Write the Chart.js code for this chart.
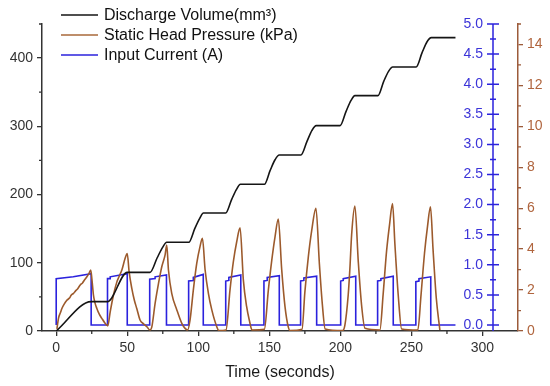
<!DOCTYPE html>
<html>
<head>
<meta charset="utf-8">
<script src="https://cdn.jsdelivr.net/npm/chart.js@4/dist/chart.umd.min.js"></script>
<style>
  body { margin: 0; background: #fff; }
  canvas { display: block; }
</style>
</head>
<body>
<canvas id="myChart" width="550" height="386"></canvas>
<script>
// ticks
const xTicks = [0, 50, 100, 150, 200, 250, 300]
const xMinor = [25, 75, 125, 175, 225, 275]
const volumeTicks = [0, 100, 200, 300, 400]
const volumeMinor = [50, 150, 250, 350, 450]
const currentTicks = [0, 0.5, 1, 1.5, 2, 2.5, 3, 3.5, 4, 4.5, 5]
const currentMinor = [0.25, 0.75, 1.25, 1.75, 2.25, 2.75, 3.25, 3.75, 4.25, 4.75]
const pressureTicks = [0, 2, 4, 6, 8, 10, 12, 14]
const pressureMinor = [1, 3, 5, 7, 9, 11, 13, 15]

// Discharge Volume (mm3)
const volumeT = [0, 24.6, 36, 50, 66, 71, 75, 77.8, 93.3, 97.5, 101, 103.6, 119.3, 123.5, 127, 129.6,
  146.5, 150.5, 154, 157, 172.2, 176.5, 180, 183, 199.8, 204, 207.5, 210.2, 226.4, 230.5, 234, 236.8,
  253.3, 257.5, 261, 264, 281]
const volumeV = [0, 43, 43, 86, 86, 107, 123, 130, 130, 150, 165, 173, 173, 193, 208, 215,
  215, 235, 251, 258, 258, 278, 294, 301, 301, 322, 338, 345, 345, 366, 381, 387,
  387, 408, 424, 430, 430]

// Static Head Pressure (kPa)
const pressureT = [0.5, 1.6, 3, 4, 5.5, 7.5, 9.5, 10.5, 12.2, 13.5, 15, 16.9, 18.5, 20, 21.6, 23, 24.3,
  25.1, 26.2, 27.2, 28.6, 30.3, 32.1, 34, 35.6,
  36.3, 38, 40.3, 42.7, 44.5, 46.2, 48.5, 50, 51.3, 53.2, 55, 56.7, 59, 61.5, 63.8, 66,
  67.3, 69.6, 72, 74.3, 76.6, 77.8, 79, 81.3, 84.9, 88.4, 90.7, 92.5,
  94.2, 96.5, 98.9, 101.2, 102.9, 104.8, 107.1, 109.5, 113, 114.5, 119.5,
  122.3, 124.7, 127, 129.4, 131.7, 134, 136, 137.8, 146.5,
  149.3, 151.7, 154, 156.3, 158.7, 161, 163.3, 164.5, 173,
  175, 177.4, 179.8, 182.8, 185.2, 187.3, 189.3, 201.5,
  203.2, 205.5, 206.7, 207.9, 210.2, 212.6, 214.9, 217.3, 227.8,
  230.1, 232.5, 234.6, 236.7, 238.4, 240.7, 243.1, 254.5,
  256.8, 259.2, 261.3, 263.4, 265.2, 267.5, 270]
const pressureK = [0.1, 0.62, 0.9, 1.1, 1.3, 1.5, 1.62, 1.75, 1.84, 1.95, 2.05, 2.25, 2.35, 2.5, 2.65, 2.8, 2.98,
  2.55, 1.76, 1.4, 1.1, 0.82, 0.62, 0.42, 0.29,
  0.25, 0.94, 1.76, 2.4, 2.7, 2.98, 3.55, 3.79, 2.9, 2.08, 1.5, 1.1, 0.54, 0.35, 0.21, 0.05,
  0.2, 1.35, 2.33, 3.14, 3.71, 4.2, 2.98, 1.84, 1.03, 0.37, 0.13, 0.05,
  0.54, 2.0, 3.3, 4.12, 4.53, 2.98, 1.84, 1.03, 0.21, 0.02, 0.05,
  2.0, 3.4, 4.35, 5.04, 2.5, 1.2, 0.5, 0.05, 0.08,
  2.0, 3.45, 4.6, 5.47, 3.0, 1.2, 0.2, 0.02, 0.08,
  1.9, 3.6, 4.9, 6.0, 3.3, 1.3, 0.1, 0.02,
  0.3, 1.76, 3.06, 4.69, 6.1, 3.38, 1.27, 0.13, 0.05,
  1.8, 3.9, 5.2, 6.23, 4.2, 1.76, 0.1, 0.05,
  1.8, 3.8, 5.1, 6.07, 4.0, 1.6, 0.05]

// Input Current (A)
const currentT = [0, 0, 12, 24.6, 24.6, 36.1, 36.1, 38, 38, 50, 50,
  65.8, 65.8, 69.6, 69.6, 77.6, 77.6, 93.2, 93.2, 96.5, 96.5, 103.5, 103.5,
  119.3, 119.3, 121.5, 121.5, 129.9, 129.9, 146.2, 146.2, 148.5, 148.5, 157, 157,
  172, 172, 174.3, 174.3, 183.3, 183.3, 200.2, 200.2, 202, 202, 210.8, 210.8,
  226.2, 226.2, 228.5, 228.5, 237.2, 237.2, 253.1, 253.1, 255.3, 255.3, 263.6, 263.6, 281]
const currentA = [0, 0.77, 0.8, 0.85, 0, 0, 0.77, 0.77, 0.8, 0.85, 0,
  0, 0.76, 0.77, 0.8, 0.83, 0, 0, 0.73, 0.74, 0.79, 0.84, 0,
  0, 0.73, 0.74, 0.79, 0.83, 0, 0, 0.73, 0.74, 0.79, 0.82, 0,
  0, 0.73, 0.74, 0.78, 0.81, 0, 0, 0.73, 0.74, 0.77, 0.81, 0,
  0, 0.73, 0.74, 0.77, 0.81, 0, 0, 0.72, 0.73, 0.77, 0.8, 0, 0]

const ink = '#333'
const blue = '#2b22dd'
const brown = '#9c5a2c'
const font = "'Liberation Sans', Arial, sans-serif"
Chart.defaults.font.family = font

function pts(xs, ys){
    return xs.map((x, i) => ({x: x, y: ys[i]}))
}

// minor ticks, the inner current axis and the legend
const extras = {
    id: 'extras',
    afterDraw(chart){
        const ctx = chart.ctx
        const a = chart.chartArea
        const {x, yV, yP, yI} = chart.scales
        ctx.save()
        ctx.lineWidth = 1.3
        ctx.strokeStyle = ink
        ctx.beginPath()
        xMinor.forEach(v => {
            const px = x.getPixelForValue(v)
            ctx.moveTo(px, a.bottom); ctx.lineTo(px, a.bottom + 3)
        })
        volumeMinor.forEach(v => {
            const py = yV.getPixelForValue(v)
            ctx.moveTo(a.left, py); ctx.lineTo(a.left - 3, py)
        })
        ctx.stroke()
        ctx.strokeStyle = '#9c5b3a'
        ctx.beginPath()
        pressureMinor.forEach(v => {
            const py = yP.getPixelForValue(v)
            ctx.moveTo(a.right, py); ctx.lineTo(a.right + 3, py)
        })
        ctx.stroke()

        // current axis sits inside the plot
        const bx = a.right - 25
        ctx.strokeStyle = blue
        ctx.lineWidth = 1.5
        ctx.beginPath()
        ctx.moveTo(bx, a.top); ctx.lineTo(bx, a.bottom)
        currentTicks.forEach(v => {
            const py = yI.getPixelForValue(v)
            ctx.moveTo(bx - 6, py); ctx.lineTo(bx + 6, py)
        })
        currentMinor.forEach(v => {
            const py = yI.getPixelForValue(v)
            ctx.moveTo(bx - 3, py); ctx.lineTo(bx + 3, py)
        })
        ctx.stroke()
        ctx.fillStyle = '#3b33d8'
        ctx.font = '14px ' + font
        ctx.textAlign = 'right'
        ctx.textBaseline = 'middle'
        currentTicks.forEach(v => {
            ctx.fillText(v.toFixed(1), bx - 10, yI.getPixelForValue(v))
        })

        // legend
        ctx.font = '16px ' + font
        ctx.textAlign = 'left'
        chart.data.datasets.forEach((ds, i) => {
            const y = 15 + i * 20
            ctx.strokeStyle = ds.legendColor
            ctx.lineWidth = 1.6
            ctx.beginPath()
            ctx.moveTo(61, y); ctx.lineTo(98, y)
            ctx.stroke()
            ctx.fillStyle = '#111'
            ctx.fillText(ds.label, 104, y + 1)
        })
        ctx.restore()
    }
}

function setTicks(list){
    return scale => { scale.ticks = list.map(v => ({value: v})) }
}

const ctx = document.getElementById('myChart').getContext('2d')
const chart = new Chart(ctx, {
    type: 'line',
    data: {
        datasets: [
            {
                label: 'Discharge Volume(mm³)',
                data: pts(volumeT, volumeV),
                yAxisID: 'yV',
                borderColor: '#151515',
                legendColor: '#151515',
                borderWidth: 1.6,
                cubicInterpolationMode: 'monotone',
                order: 1
            },
            {
                label: 'Static Head Pressure (kPa)',
                data: pts(pressureT, pressureK),
                yAxisID: 'yP',
                borderColor: brown,
                legendColor: '#a8683a',
                borderWidth: 1.6,
                cubicInterpolationMode: 'monotone',
                order: 2
            },
            {
                label: 'Input Current (A)',
                data: pts(currentT, currentA),
                yAxisID: 'yI',
                borderColor: blue,
                legendColor: blue,
                borderWidth: 1.6,
                tension: 0,
                order: 3
            }
        ]
    },
    options: {
        responsive: false,
        animation: false,
        events: [],
        layout: { padding: { top: 24, left: 0, right: 0, bottom: 0 } },
        elements: { point: { radius: 0 } },
        plugins: { legend: { display: false }, tooltip: { enabled: false } },
        scales: {
            x: {
                type: 'linear',
                min: -10,
                max: 325,
                afterBuildTicks: setTicks(xTicks),
                afterFit: s => { s.height = 55 },
                grid: { drawOnChartArea: false, tickLength: 5, color: ink, lineWidth: 1.3 },
                border: { color: ink, width: 1.5 },
                ticks: { color: ink, padding: 4, font: { size: 14 }, maxRotation: 0 },
                title: { display: true, text: 'Time (seconds)', color: '#1a1a1a', font: { size: 16 }, padding: { top: 0, bottom: 4 } }
            },
            yV: {
                position: 'left',
                min: 0,
                max: 450,
                afterBuildTicks: setTicks(volumeTicks),
                afterFit: s => { s.width = 42 },
                grid: { drawOnChartArea: false, tickLength: 5, color: ink, lineWidth: 1.3 },
                border: { color: ink, width: 1.5 },
                ticks: { color: ink, padding: 4, font: { size: 14 } }
            },
            yP: {
                position: 'right',
                min: 0,
                max: 15,
                afterBuildTicks: setTicks(pressureTicks),
                afterFit: s => { s.width = 32 },
                grid: { drawOnChartArea: false, tickLength: 5, color: '#9c5b3a', lineWidth: 1.3 },
                border: { color: '#9c5b3a', width: 1.5 },
                ticks: { color: '#b0653e', padding: 4, font: { size: 14 } }
            },
            yI: {
                display: false,
                min: -0.1,
                max: 5.0
            }
        }
    },
    plugins: [extras]
})
</script>
</body>
</html>
